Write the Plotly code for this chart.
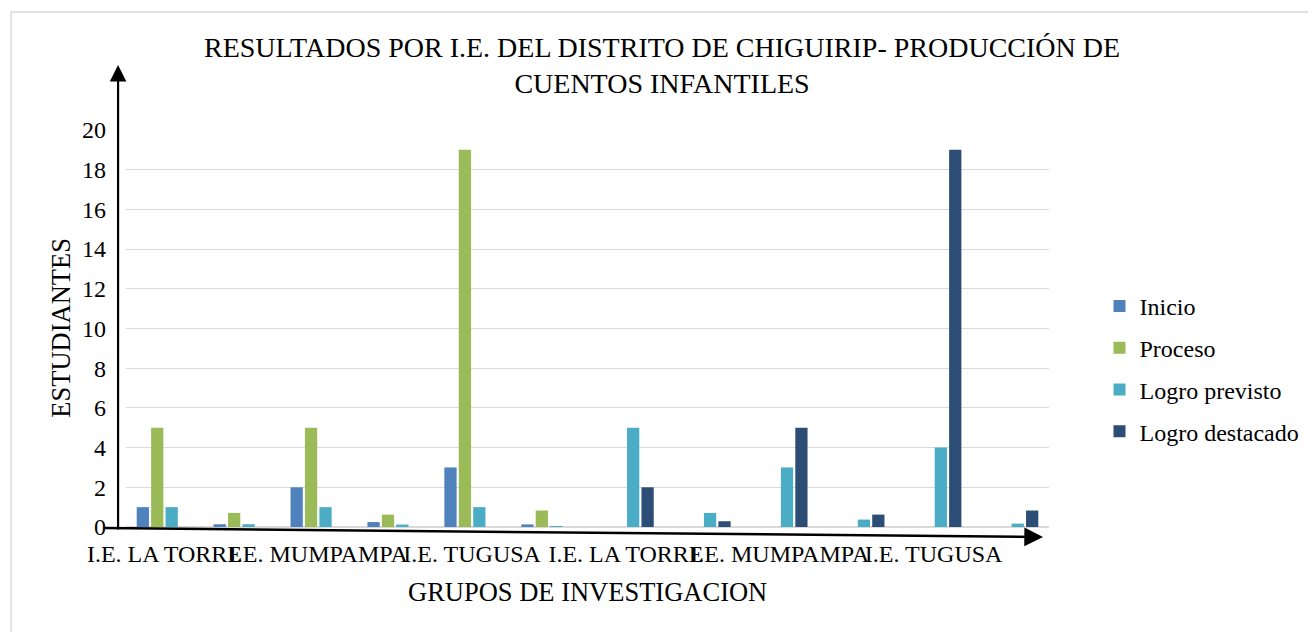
import plotly.graph_objects as go

# ---- data ----
positions = list(range(12))  # 12 category slots (counts and proportions alternate)
tick_labels = ["I.E. LA TORRE", "I.E. MUMPAMPA", "I.E. TUGUSA",
               "I.E. LA TORRE", "I.E. MUMPAMPA", "I.E. TUGUSA"]
tick_positions = [0, 2, 4, 6, 8, 10]

series_names = ["Inicio", "Proceso", "Logro previsto", "Logro destacado"]
inicio = [1, 0.14, 2, 0.25, 3, 0.13, 0, 0, 0, 0, 0, 0]
proceso = [5, 0.71, 5, 0.625, 19, 0.83, 0, 0, 0, 0, 0, 0]
logro_previsto = [1, 0.14, 1, 0.125, 1, 0.04, 5, 0.71, 3, 0.375, 4, 0.17]
logro_destacado = [0, 0, 0, 0, 0, 0, 2, 0.29, 5, 0.625, 19, 0.83]
series_values = [inicio, proceso, logro_previsto, logro_destacado]
colors = ["#4F81BD", "#9BBB59", "#4BACC6", "#2C4D75"]

y_ticks = [0, 2, 4, 6, 8, 10, 12, 14, 16, 18, 20]

title_text = "RESULTADOS POR I.E. DEL DISTRITO DE CHIGUIRIP- PRODUCCIÓN DE<br>CUENTOS INFANTILES"
x_title = "GRUPOS DE INVESTIGACION"
y_title = "ESTUDIANTES"

FONT = "Liberation Serif"

fig = go.Figure()
for name, vals, col in zip(series_names, series_values, colors):
    fig.add_trace(go.Bar(x=positions, y=vals, name=name, legendgroup=name,
                         marker=dict(color=col, line=dict(width=0))))

# page geometry (page pixels); the figure div sits at an 8px body offset
OFF = 8
W, H = 1316, 632
L, R, T, B = 126, 1058, 129, 527
pw, ph = R - L, B - T

def px(xp):
    return (xp - L) / pw

def py(yp):
    return (B - yp) / ph

fig.update_layout(
    width=W - OFF, height=H - OFF,
    margin=dict(l=L - OFF, r=W - R, t=T - OFF, b=H - B, pad=0),
    paper_bgcolor="white", plot_bgcolor="white",
    barmode="group", bargap=0.25, bargroupgap=0.15,
    font=dict(family=FONT, size=24, color="black"),
    showlegend=True,
    legend=dict(x=px(1109), xanchor="left", y=py(369), yanchor="middle",
                font=dict(family=FONT, size=24, color="black"),
                tracegroupgap=7.5, traceorder="grouped",
                bgcolor="rgba(0,0,0,0)"),
    xaxis=dict(range=[-0.5, 11.5], tickmode="array", tickvals=tick_positions,
               ticktext=tick_labels, tickangle=0, showgrid=False, zeroline=False,
               showline=False, ticks="", ticklabelstandoff=10,
               tickfont=dict(family=FONT, size=24, color="black")),
    yaxis=dict(range=[0, 20.05], tickmode="array", tickvals=y_ticks,
               showgrid=True, gridcolor="#d9d9d9", gridwidth=1,
               zeroline=True, zerolinecolor="#d9d9d9", zerolinewidth=1.5,
               showline=False, ticks="", ticklabelstandoff=19,
               tickfont=dict(family=FONT, size=24, color="black")),
)

annotations = [
    dict(text=title_text,
         x=px(667), y=py(66), xref="paper", yref="paper", showarrow=False,
         xanchor="center", yanchor="middle", align="center",
         font=dict(family=FONT, size=28)),
    dict(text=x_title,
         x=px(592), y=py(592), xref="paper", yref="paper", showarrow=False,
         xanchor="center", yanchor="middle", font=dict(family=FONT, size=26.5)),
    dict(text=y_title, textangle=-90,
         x=px(60), y=py(328), xref="paper", yref="paper", showarrow=False,
         xanchor="center", yanchor="middle", font=dict(family=FONT, size=26.5)),
    # vertical arrow
    dict(text="", x=px(118), y=py(65), xref="paper", yref="paper",
         showarrow=True, ax=0, ay=531 - 65, axref="pixel", ayref="pixel",
         arrowhead=2, arrowsize=1.5, arrowwidth=2.2, arrowcolor="black"),
    # horizontal arrow
    dict(text="", x=px(1052), y=py(537), xref="paper", yref="paper",
         showarrow=True, ax=112 - 1052, ay=528 - 537, axref="pixel", ayref="pixel",
         arrowhead=2, arrowsize=1.5, arrowwidth=2.5, arrowcolor="black"),
]
fig.update_layout(annotations=annotations)

fig.add_shape(type="rect", xref="paper", yref="paper",
              x0=px(10), x1=px(1340), y0=py(660), y1=py(12),
              line=dict(color="#d9d9d9", width=1.5), fillcolor="rgba(0,0,0,0)",
              layer="below")

fig.write_html("out.html")
